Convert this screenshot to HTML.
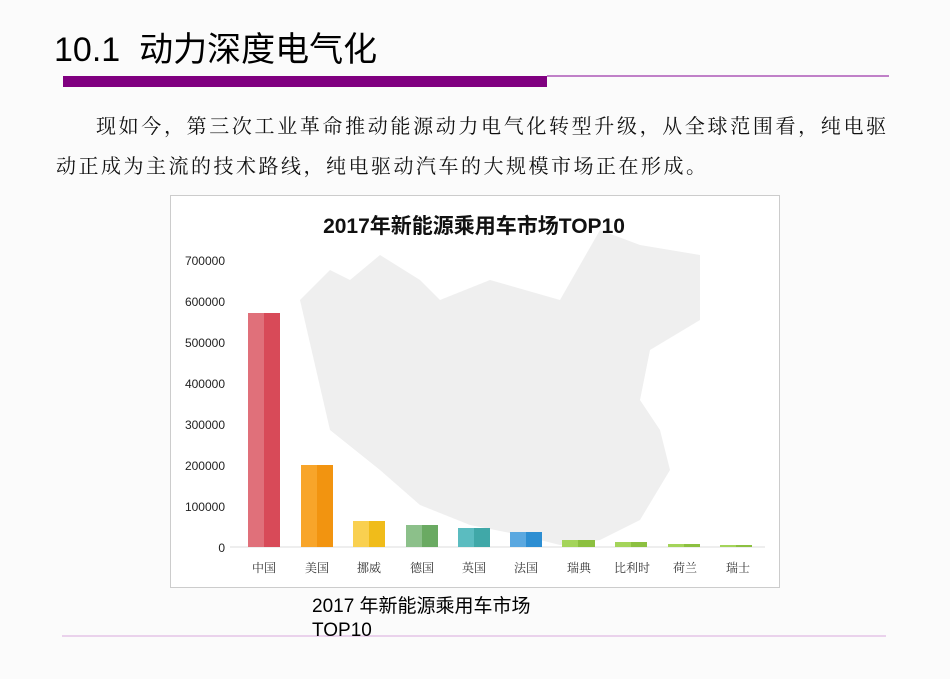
<!DOCTYPE html>
<html><head><meta charset="utf-8"><style>
body{margin:0;width:950px;height:679px;background:#fbfbfb;position:relative;overflow:hidden;font-family:"Liberation Sans","Noto Sans CJK SC",sans-serif}
.a{position:absolute}
.p{font-family:'Noto Serif CJK SC',serif;font-size:20px;line-height:40px;color:#111;white-space:nowrap}
</style></head><body>
<div class="a" style="left:54px;top:22px;font-size:34px;color:#000;white-space:nowrap">10.1&nbsp; 动力深度电气化</div>
<div class="a" style="left:63px;top:76px;width:484px;height:11px;background:#800080"></div>
<div class="a" style="left:547px;top:75px;width:342px;height:2px;background:#c080c8"></div>
<div class="a p" style="left:96px;top:105px;letter-spacing:2.65px">现如今，第三次工业革命推动能源动力电气化转型升级，从全球范围看，纯电驱</div>
<div class="a p" style="left:56px;top:145px;letter-spacing:2.5px">动正成为主流的技术路线，纯电驱动汽车的大规模市场正在形成。</div>
<div class="a" style="left:170px;top:195px;width:608px;height:391px;background:#fff;border:1px solid #ccc"></div>
<svg class="a" style="left:0;top:0" width="950" height="679">
<path d="M300 300 L330 270 L350 280 L380 255 L420 280 L440 300 L490 280 L560 300 L600 230 L640 245 L700 255 L700 320 L650 350 L640 400 L660 430 L670 470 L640 520 L600 540 L560 545 L520 535 L470 525 L420 505 L380 470 L330 430 Z" fill="#efefef"/>
<text x="474" y="233" font-size="21" font-weight="bold" text-anchor="middle" fill="#111" font-family="Liberation Sans,Noto Sans CJK SC,sans-serif">2017年新能源乘用车市场TOP10</text>
<g font-size="12" fill="#222" text-anchor="end" font-family="Liberation Sans,sans-serif">
<text x="225" y="265">700000</text><text x="225" y="306">600000</text><text x="225" y="347">500000</text><text x="225" y="388">400000</text><text x="225" y="429">300000</text><text x="225" y="470">200000</text><text x="225" y="511">100000</text><text x="225" y="552">0</text></g>
<line x1="230" y1="547" x2="765" y2="547" stroke="#ddd"/>
<g>
<rect x="248" y="313" width="16" height="234" fill="#e0707a"/><rect x="264" y="313" width="16" height="234" fill="#d84a58"/>
<rect x="301" y="465" width="16" height="82" fill="#f8a52a"/><rect x="317" y="465" width="16" height="82" fill="#f29410"/>
<rect x="353" y="521" width="16" height="26" fill="#f9d050"/><rect x="369" y="521" width="16" height="26" fill="#f0bc1a"/>
<rect x="406" y="525" width="16" height="22" fill="#8cc08a"/><rect x="422" y="525" width="16" height="22" fill="#6aaa62"/>
<rect x="458" y="528" width="16" height="19" fill="#5bbcc0"/><rect x="474" y="528" width="16" height="19" fill="#40a8a8"/>
<rect x="510" y="532" width="16" height="15" fill="#5aa8e0"/><rect x="526" y="532" width="16" height="15" fill="#2d8ed2"/>
<rect x="562" y="540" width="16" height="7" fill="#a4d45a"/><rect x="578" y="540" width="17" height="7" fill="#8cc040"/>
<rect x="615" y="542" width="16" height="5" fill="#a4d45a"/><rect x="631" y="542" width="16" height="5" fill="#8cc040"/>
<rect x="668" y="544" width="16" height="3" fill="#a4d45a"/><rect x="684" y="544" width="16" height="3" fill="#8cc040"/>
<rect x="720" y="545" width="16" height="2" fill="#a4d45a"/><rect x="736" y="545" width="16" height="2" fill="#8cc040"/>
</g>
<g font-size="12" fill="#333" text-anchor="middle" font-family="Noto Serif CJK SC,serif">
<text x="264" y="572">中国</text><text x="317" y="572">美国</text><text x="369" y="572">挪威</text><text x="422" y="572">德国</text><text x="474" y="572">英国</text><text x="526" y="572">法国</text><text x="579" y="572">瑞典</text><text x="632" y="572">比利时</text><text x="685" y="572">荷兰</text><text x="738" y="572">瑞士</text></g>
<line x1="62" y1="636" x2="886" y2="636" stroke="#d8a8dc" stroke-width="1"/>
</svg>
<div class="a" style="left:312px;top:595px;font-size:19px;line-height:24px;color:#000;width:260px">2017 年新能源乘用车市场<br>TOP10</div>
</body></html>
